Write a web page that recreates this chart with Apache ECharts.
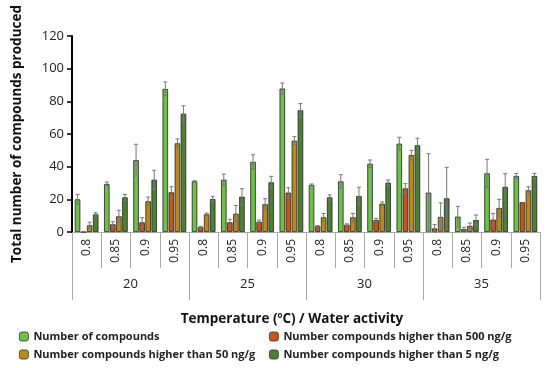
<!DOCTYPE html>
<html><head><meta charset="utf-8">
<script src="https://cdn.jsdelivr.net/npm/echarts@6/dist/echarts.min.js"></script>
<style>html,body{margin:0;padding:0;background:#fff}#c{width:550px;height:368px}</style>
</head><body><div id="c"></div>
<script>
const activities = ['0.8','0.85','0.9','0.95','0.8','0.85','0.9','0.95','0.8','0.85','0.9','0.95','0.8','0.85','0.9','0.95'];
const temperatures = ['20','25','30','35'];
const yTicks = [0,20,40,60,80,100,120];
const seriesNames = ['Number of compounds','Number compounds higher than 500 ng/g','Number compounds higher than 50 ng/g','Number compounds higher than 5 ng/g'];
const total   = [20, 29.4, 44, 87.6, 31, 32, 42.9, 87.8, 28.8, 31, 41.8, 54.1, 24.1, 9.4, 35.9, 34.3];
const over500 = [0, 4.7, 5.9, 24.3, 3, 5.9, 6.3, 24.1, 3.5, 4.5, 7.3, 26.7, 2.2, 1.8, 7.6, 18.2];
const over50  = [4.1, 9.6, 18.8, 54.3, 10.8, 11.2, 17, 55.9, 9, 9, 17.3, 47.1, 9.2, 3.7, 14.7, 25.5];
const over5   = [10.8, 21.2, 32, 72.4, 20.2, 21.6, 30.4, 74.5, 21.2, 22, 30.2, 53.1, 20.6, 7.3, 27.6, 34.3];
const totalErr   = [3, 1.2, 9.7, 4.2, 0.4, 3.5, 4.4, 3.4, 0.6, 4.1, 2.3, 3.9, 23.8, 6.3, 8.6, 1.6];
const over500Err = [0, 1.6, 2.9, 3.4, 0.5, 1.9, 1, 3, 0.5, 0.5, 1, 2.9, 2.3, 1.1, 3.8, 0];
const over50Err  = [1.9, 3.7, 2.6, 2.7, 0.8, 5.1, 3.4, 2.5, 2.4, 2.4, 1.1, 2.9, 8.6, 1.8, 5.3, 2.2];
const over5Err   = [1, 1.8, 5.8, 4.9, 1.6, 4.9, 3.7, 4.1, 1.5, 5.4, 1.6, 4.3, 19, 3.1, 8.1, 1.6];

const values = [total, over500, over50, over5];
const errs = [totalErr, over500Err, over50Err, over5Err];
const colors = ['#6fbf4a', '#c4561a', '#b88a1e', '#4f7f34'];
const BW = 5.5, GAP = 0.1;

const chart = echarts.init(document.getElementById('c'));
const series = [];
values.forEach((v, i) => {
  series.push({
    name: seriesNames[i], type: 'bar', data: v, barWidth: BW, barGap: (GAP*100)+'%',
    itemStyle: {color: colors[i], borderColor: '#222', borderWidth: 0.8}
  });
});
values.forEach((v, i) => {
  series.push({
    type: 'custom', silent: true, z: 5,
    data: v.map((val, k) => [k, val, errs[i][k]]),
    renderItem: function (params, api) {
      const k = api.value(0), val = api.value(1), e = api.value(2);
      if (!e) return;
      const total = 4*BW + 3*BW*GAP;
      const cx = api.coord([k, 0])[0] - total/2 + i*BW*(1+GAP) + BW/2;
      const yt = api.coord([k, val + e])[1];
      const yb = api.coord([k, Math.max(0, val - e)])[1];
      const st = {stroke: '#777', lineWidth: 1};
      return {type: 'group', children: [
        {type: 'line', shape: {x1: cx, y1: yt, x2: cx, y2: yb}, style: st},
        {type: 'line', shape: {x1: cx-2, y1: yt, x2: cx+2, y2: yt}, style: st},
        {type: 'line', shape: {x1: cx-2, y1: yb, x2: cx+2, y2: yb}, style: st}
      ]};
    }
  });
});

const lg = {orient: 'vertical', itemWidth: 9, itemHeight: 9, itemGap: 7,
  textStyle: {fontFamily: 'Open Sans', fontWeight: 'bold', fontSize: 11, color: '#222'},
  itemStyle: {borderColor: '#333', borderWidth: 0.8}};

chart.setOption({
  animation: false,
  grid: {left: 72, right: 10, top: 36, bottom: 136, containLabel: false},
  legend: [
    Object.assign({left: 14, top: 326, data: [seriesNames[0], seriesNames[2]]}, lg),
    Object.assign({left: 264, top: 326, data: [seriesNames[1], seriesNames[3]]}, lg)
  ],
  xAxis: [
    {type: 'category', data: activities, position: 'bottom',
     axisLine: {show: true, lineStyle: {color: '#aaa'}},
     axisTick: {show: true, interval: 0, length: 36, lineStyle: {color: '#aaa'}},
     axisLabel: {interval: 0, rotate: 90, margin: 7, fontFamily: 'Open Sans', fontSize: 12, color: '#222'}},
    {type: 'category', data: temperatures, position: 'bottom',
     axisLine: {show: false},
     axisTick: {show: true, interval: 0, length: 68, lineStyle: {color: '#aaa'}},
     axisLabel: {interval: 0, margin: 46, fontFamily: 'Open Sans', fontSize: 13, color: '#222'},
     name: 'Temperature ({s|o}C) / Water activity', nameLocation: 'middle', nameGap: 80,
     nameTextStyle: {fontFamily: 'Open Sans', fontWeight: 'bold', fontSize: 13.5, color: '#111', padding: [0, 28, 0, 0],
       rich: {s: {fontSize: 8, fontWeight: 'bold', verticalAlign: 'top', padding: [0,0,6,0], color: '#111'}}}}
  ],
  yAxis: {type: 'value', min: yTicks[0], max: yTicks[yTicks.length-1], interval: 20,
    name: 'Total number of compounds produced', nameLocation: 'middle', nameGap: 48,
    nameTextStyle: {fontFamily: 'Open Sans', fontWeight: 'bold', fontSize: 13.5, color: '#111'},
    axisLine: {show: true, lineStyle: {color: '#000', width: 2}},
    axisTick: {show: true, length: 5, lineStyle: {color: '#000', width: 1.5}},
    splitLine: {show: false},
    axisLabel: {margin: 8, fontFamily: 'Open Sans', fontSize: 13, color: '#222'}},
  series: series
});
</script></body></html>
